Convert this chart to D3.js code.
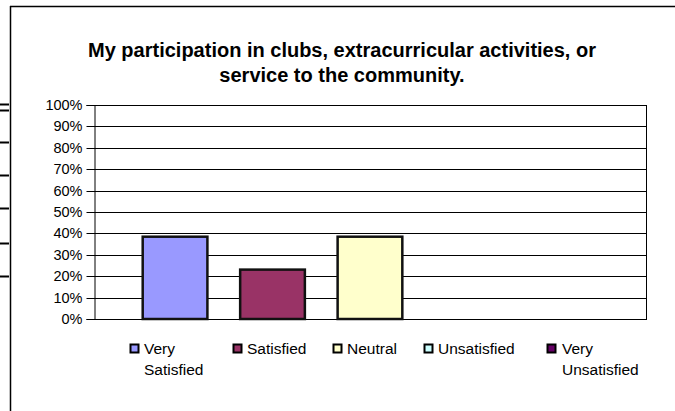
<!DOCTYPE html>
<html><head><meta charset="utf-8">
<script src="https://cdn.jsdelivr.net/npm/d3@7"></script>
<style>body{margin:0;background:#fff}svg{display:block}text{font-family:"Liberation Sans",Arial,sans-serif}</style>
</head><body>
<svg id="c" width="675" height="411"></svg>
<script>
const titleLines = ["My participation in clubs, extracurricular activities, or", "service to the community."];
const series = ["Very Satisfied", "Satisfied", "Neutral", "Unsatisfied", "Very Unsatisfied"];
const legendLines = [["Very", "Satisfied"], ["Satisfied"], ["Neutral"], ["Unsatisfied"], ["Very", "Unsatisfied"]];
const values = [0.3846, 0.2308, 0.3846, 0, 0];
const colors = ["#9999FF", "#993366", "#FFFFCC", "#CCFFFF", "#660066"];
const yTicks = [0, 0.1, 0.2, 0.3, 0.4, 0.5, 0.6, 0.7, 0.8, 0.9, 1.0];
const stubYs = [104, 110, 142, 175, 208, 243, 276];

const svg = d3.select("#c");
svg.append("line").attr("x1", 10.5).attr("x2", 10.5).attr("y1", 6).attr("y2", 411).attr("stroke", "#000").attr("stroke-width", 1.5);
svg.append("line").attr("x1", 10).attr("x2", 675).attr("y1", 6.5).attr("y2", 6.5).attr("stroke", "#000").attr("stroke-width", 1.5);
svg.selectAll(".stub").data(stubYs).join("line").attr("x1", 0).attr("x2", 9).attr("y1", d => d + 0.5).attr("y2", d => d + 0.5).attr("stroke", "#000").attr("stroke-width", 2);

const L = 94, R = 646, T = 105, B = 319;
const y = d3.scaleLinear().domain([0, 1]).range([B, T]);
const x = d3.scaleBand().domain(series).range([L + 48.7, R - 48.7 + 32.7]).paddingInner(0).paddingOuter(0);
const step = x.step(), barW = step * 64.6 / 97.3;

svg.selectAll(".grid").data(yTicks).join("line")
  .attr("x1", L).attr("x2", R).attr("y1", d => Math.round(y(d)) + 0.5).attr("y2", d => Math.round(y(d)) + 0.5)
  .attr("stroke", "#000").attr("stroke-width", 1);
svg.append("line").attr("x1", R + 0.5).attr("x2", R + 0.5).attr("y1", T).attr("y2", B + 1).attr("stroke", "#000");

const axis = d3.axisLeft(y).tickValues(yTicks).tickFormat(d3.format(".0%")).tickSize(8).tickPadding(4);
const g = svg.append("g").attr("transform", `translate(${L + 0.5},0)`).call(axis);
g.select(".domain").attr("stroke", "#000");
g.selectAll(".tick line").attr("stroke", "#000");
g.selectAll("text").attr("font-size", 14.5).attr("fill", "#000").attr("font-family", "Liberation Sans, Arial, sans-serif");
g.selectAll(".tick").attr("transform", d => `translate(0,${Math.round(y(d)) + 0.5})`);

svg.selectAll(".bar").data(series.map((s, i) => ({s, v: values[i], c: colors[i]})).filter(d => d.v > 0)).join("rect")
  .attr("x", d => x(d.s)).attr("width", barW)
  .attr("y", d => y(d.v)).attr("height", d => y(0) - y(d.v))
  .attr("fill", d => d.c).attr("stroke", "#111").attr("stroke-width", 2.5);

svg.append("text").attr("text-anchor", "middle").attr("font-weight", "bold").attr("font-size", 20)
  .selectAll("tspan").data(titleLines).join("tspan").attr("x", 342).attr("y", (d, i) => 57 + i * 25).text(d => d);

const legX = [130, 233, 333, 424, 547];
const lg = svg.selectAll(".leg").data(series).join("g").attr("transform", (d, i) => `translate(${legX[i]},0)`);
lg.append("rect").attr("x", 0.5).attr("y", 344.5).attr("width", 8).attr("height", 8)
  .attr("fill", (d, i) => colors[i]).attr("stroke", "#000").attr("stroke-width", 2);
lg.append("text").attr("font-size", 15.5).attr("fill", "#000")
  .selectAll("tspan").data((d, i) => legendLines[i]).join("tspan")
  .attr("x", (d, j, n) => 14 + (n[0].parentNode.__data__ === "Very Unsatisfied" ? 1 : 0))
  .attr("y", (d, j) => 354 + j * 21).text(d => d);
</script>
</body></html>
